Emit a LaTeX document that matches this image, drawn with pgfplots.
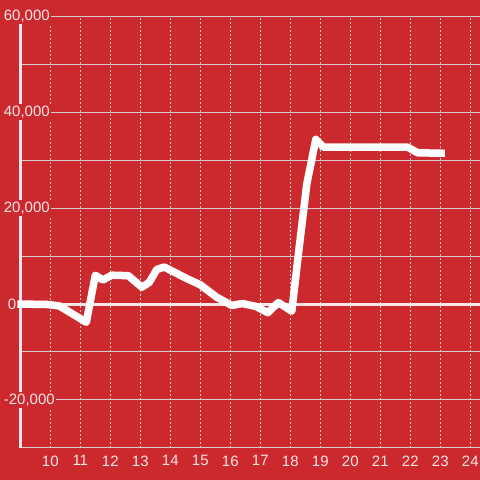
\documentclass[border=0pt]{standalone}
\usepackage{fontspec}
\setmainfont{Liberation Sans}
\usepackage{pgfplots}
\pgfplotsset{compat=1.18}
\definecolor{bg}{RGB}{204,41,46}
\definecolor{txt}{RGB}{245,230,230}
\definecolor{gridc}{RGB}{212,205,205}
\begin{document}
\begin{tikzpicture}[x=1pt,y=1pt]
\fill[bg] (-20.3,-32) rectangle (459.7,448);
\begin{axis}[
  at={(0,0)}, anchor=south west,
  scale only axis, width=459.7pt, height=432pt,
  xmin=9, xmax=24.323, ymin=-30000, ymax=60000,
  clip=false,
  axis x line=bottom, axis y line=left,
  x axis line style={draw=none, -},
  y axis line style={txt, line width=3pt, -},
  xtick={10,...,24},
  ytick={-20000,20000,40000,60000},
  minor ytick={-30000,-10000,10000,30000,50000},
  extra y ticks={0},
  extra y tick style={yticklabel style={xshift=4pt}},
  tick style={draw=none},
  xmajorgrids, ymajorgrids, yminorgrids,
  major x grid style={gridc, line width=1pt, dash pattern=on 2pt off 2pt},
  major y grid style={gridc, line width=1pt},
  minor y grid style={gridc, line width=1pt},
  scaled y ticks=false,
  /pgf/number format/.cd, 1000 sep={,}, assume math mode=true,
  /pgfplots/.cd,
  ticklabel style={font=\fontsize{15}{16}\selectfont, text=txt},
  yticklabel style={anchor=west, xshift=-16pt, fill=bg, inner sep=1.5pt},
  xticklabel style={yshift=-2pt},
]
\addplot[txt, line width=3pt, forget plot] coordinates {(9,0) (24.323,0)};
\addplot[white, line width=7.5pt, line join=round] coordinates {
(8.9,0) (9.9,-100) (10.3,-400) (11.2,-3800) (11.5,6000) (11.75,5000)
(12.05,6000) (12.6,5900) (13.05,3500) (13.3,4500) (13.55,7200) (13.8,7700)
(14.55,5300) (15.0,4000) (15.55,1400) (16.05,-300) (16.4,100) (16.85,-500)
(17.25,-1800) (17.6,300) (18.05,-1500) (18.3,12000) (18.55,25000)
(18.85,34300) (19.1,32700) (21.9,32700) (22.25,31500) (23.15,31400)
};
\end{axis}
\pgfresetboundingbox
\path (-20.3,-32) rectangle (459.7,448);
\end{tikzpicture}
\end{document}
